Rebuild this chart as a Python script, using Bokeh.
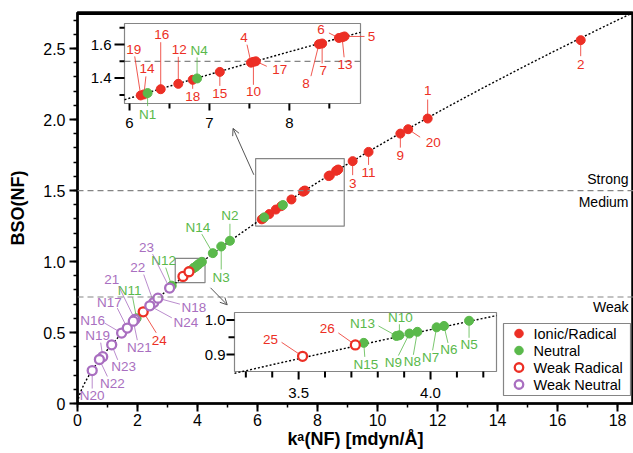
import numpy as np
from bokeh.plotting import figure
from bokeh.models import (Range1d, FixedTicker, Arrow, OpenHead, Span)
from bokeh.embed import file_html
from bokeh.resources import INLINE
from bokeh.core.properties import value

# ---------------- data ----------------
ionic_names = [str(i) for i in range(1, 21)]
ionic_k = [11.67, 16.77, 9.17, 7.52, 8.69, 8.62, 8.41, 8.37, 10.76, 7.55,
           9.70, 6.61, 8.66, 6.18, 7.13, 6.39, 7.58, 6.79, 6.14, 11.02]
ionic_bso = [2.007, 2.559, 1.707, 1.492, 1.648, 1.639, 1.606, 1.602, 1.901, 1.497,
             1.772, 1.366, 1.643, 1.303, 1.437, 1.334, 1.500, 1.390, 1.297, 1.932]

neutral_names = ["N%d" % i for i in range(1, 16)]
neutral_k = [6.226, 5.08, 4.79, 6.845, 4.146, 4.051, 4.023, 3.95, 3.92, 3.882,
             1.97, 3.14, 3.871, 4.51, 3.747]
neutral_bso = [1.311, 1.146, 1.106, 1.398, 0.998, 0.983, 0.979, 0.966, 0.961, 0.956,
               0.600, 0.830, 0.954, 1.059, 0.934]

wrad_names = ["24", "25", "26"]
wrad_k = [2.19, 3.515, 3.715]
wrad_bso = [0.646, 0.895, 0.928]

wneu_names = ["21", "22", "23", "N16", "N17", "N18", "N19", "N20", "N21", "N22", "N23", "N24"]
wneu_k = [1.91, 2.54, 3.07, 1.47, 1.66, 2.68, 0.84, 0.49, 1.86, 0.73, 1.14, 2.41]
wneu_bso = [0.592, 0.711, 0.813, 0.496, 0.531, 0.742, 0.330, 0.232, 0.580, 0.310, 0.413, 0.688]

legend_labels = ["Ionic/Radical", "Neutral", "Weak Radical", "Weak Neutral"]

x_major = [0, 2, 4, 6, 8, 10, 12, 14, 16, 18]
x_minor = list(range(0, 19))
y_major = [0, 0.5, 1.0, 1.5, 2.0, 2.5]
y_major_labels = ["0", "0.5", "1.0", "1.5", "2.0", "2.5"]
y_minor = [round(0.1 * i, 1) for i in range(0, 28)]

zone_limits = [1.5, 0.75]
zone_names = ["Strong", "Medium", "Weak"]

in1_xmajor = [6, 7, 8]
in1_xmajor_labels = ["6", "7", "8"]
in1_xminor = [6.5, 7.5, 8.5]
in1_ymajor = [1.4, 1.6]
in1_ymajor_labels = ["1.4", "1.6"]
in1_yminor = [1.3, 1.5, 1.7]

in2_xmajor = [3.5, 4.0]
in2_xmajor_labels = ["3.5", "4.0"]
in2_xminor = [3.3, 3.4, 3.6, 3.7, 3.8, 3.9, 4.1, 4.2]
in2_ymajor = [0.9, 1.0]
in2_ymajor_labels = ["0.9", "1.0"]
in2_yminor = [0.95]

# ---------------- layout / style ----------------
FONT = "Liberation Sans"
RED = "#ec2f25"
GREEN = "#5ab94b"
PURPLE = "#a96fc0"
GRAY = "#858585"

W, H = 633, 453
BL, BR, BT, BB = 77, 0, 12, 50
FW, FH = W - BL - BR, H - BT - BB
X_MAX, Y_MAX = 18.53, 2.754
PPX, PPY = FW / X_MAX, FH / Y_MAX

# inset boxes in frame pixels: left, top, width, height ; and their data windows
IN1_BOX = (47, 11, 236, 80)
IN1_X, IN1_Y = (5.937, 8.89), (1.249, 1.725)
IN2_BOX = (157, 300, 262, 59)
IN2_X, IN2_Y = (3.257, 4.25), (0.851, 1.022)

# legend box in frame pixels: left, top, width, height; row pitch; marker/text x
LEG_BOX = (426, 311, 127, 72)
LEG_ROW0, LEG_PITCH, LEG_MX, LEG_TX = 10, 17, 15.5, 30


def fx(px):
    return px / PPX


def fy(py):
    return (FH - py) / PPY


def full_ranges(box, xr, yr):
    left, top, bw, bh = box
    sx = (xr[1] - xr[0]) / bw
    sy = (yr[1] - yr[0]) / bh
    off_b = FH - (top + bh)
    return (Range1d(xr[0] - left * sx, xr[0] + (FW - left) * sx),
            Range1d(yr[0] - off_b * sy, yr[0] + (FH - off_b) * sy),
            1 / sx, 1 / sy)


p = figure(width=W, height=H, x_range=Range1d(0, X_MAX), y_range=Range1d(0, Y_MAX),
           output_backend="svg", toolbar_location=None,
           min_border_left=BL, min_border_right=BR, min_border_top=BT, min_border_bottom=BB)
# frame outline supplies the heavy top border
p.outline_line_color = "black"
p.outline_line_width = 2.5
p.outline_line_alpha = 1.0
p.grid.visible = False
p.background_fill_color = "white"

r1x, r1y, p1x, p1y = full_ranges(IN1_BOX, IN1_X, IN1_Y)
r2x, r2y, p2x, p2y = full_ranges(IN2_BOX, IN2_X, IN2_Y)
p.extra_x_ranges = {"i1": r1x, "i2": r2x}
p.extra_y_ranges = {"i1": r1y, "i2": r2y}

SYS = {
    "main": ("default", "default", PPX, PPY),
    "i1": ("i1", "i1", p1x, p1y),
    "i2": ("i2", "i2", p2x, p2y),
}

# axes
p.xaxis.ticker = FixedTicker(ticks=x_major, minor_ticks=x_minor)
p.yaxis.ticker = FixedTicker(ticks=y_major, minor_ticks=y_minor)
p.yaxis.major_label_overrides = {v: s for v, s in zip(y_major, y_major_labels)}
for ax in (p.xaxis, p.yaxis):
    ax.axis_line_width = 2
    ax.major_tick_line_width = 2
    ax.minor_tick_line_width = 1.5
    ax.major_tick_out = 8
    ax.major_tick_in = 0
    ax.minor_tick_out = 4
    ax.minor_tick_in = 0
    ax.major_label_text_font = FONT
    ax.major_label_text_font_size = "16px"
    ax.major_label_text_color = "black"
    ax.axis_label_text_font = FONT
    ax.axis_label_text_font_style = "bold"
    ax.axis_label_text_font_size = "18px"
    ax.axis_label_text_color = "black"
p.xaxis.major_label_standoff = 2
p.yaxis.major_label_standoff = 4
p.xaxis.axis_label = "k\u1d43(NF) [mdyn/\u00c5]"
p.yaxis.axis_label = "BSO(NF)"
p.xaxis.axis_label_standoff = 0
p.yaxis.axis_label_standoff = 12

# top frame line, also drawn just inside the frame
p.segment(x0=[0], x1=[X_MAX], y0=[Y_MAX - 1.2 / PPY], y1=[Y_MAX - 1.2 / PPY],
          line_color="black", line_width=2.5)

# zone separators
for lim in zone_limits:
    p.add_layout(Span(location=lim, dimension="width", line_color=GRAY,
                      line_dash="6 4", line_width=1.2))

# inset frames and zoom boxes
for name, xr, yr in (("i1", IN1_X, IN1_Y), ("i2", IN2_X, IN2_Y)):
    p.quad(left=[xr[0]], right=[xr[1]], bottom=[yr[0]], top=[yr[1]],
           fill_color="white", line_color=GRAY, line_width=1.2,
           x_range_name=name, y_range_name=name)
    p.quad(left=[xr[0]], right=[xr[1]], bottom=[yr[0]], top=[yr[1]],
           fill_color=None, line_color=GRAY, line_width=1.2)

# inset 1 dashed strong/medium line
p.segment(x0=[IN1_X[0]], x1=[IN1_X[1]], y0=[zone_limits[0]], y1=[zone_limits[0]],
          line_color=GRAY, line_dash="6 4", line_width=1.2, x_range_name="i1", y_range_name="i1")

# arrows from zoom boxes to insets
p.add_layout(Arrow(end=OpenHead(size=7, line_color="#555", line_width=1),
                   x_start=5.877, y_start=1.611, x_end=5.183, y_end=1.938,
                   line_color="#555", line_width=1))
p.add_layout(Arrow(end=OpenHead(size=7, line_color="#555", line_width=1),
                   x_start=4.433, y_start=0.815, x_end=4.99, y_end=0.695,
                   line_color="#555", line_width=1))

# inset ticks

def inset_ticks(sysname, xr, yr, xmaj, xmaj_lab, xmin, ymaj, ymaj_lab, ymin,
                xlen, ylen, xlab_off, ylab_off):
    xn, yn, ppx, ppy = SYS[sysname]
    kw = dict(x_range_name=xn, y_range_name=yn, line_color="black", line_width=2)
    xs = list(xmaj) + list(xmin)
    lens = [xlen[0]] * len(xmaj) + [xlen[1]] * len(xmin)
    p.segment(x0=xs, x1=xs, y0=[yr[0]] * len(xs),
              y1=[yr[0] - L / ppy for L in lens], **kw)
    ys = list(ymaj) + list(ymin)
    lens = [ylen[0]] * len(ymaj) + [ylen[1]] * len(ymin)
    p.segment(y0=ys, y1=ys, x0=[xr[0]] * len(ys),
              x1=[xr[0] - L / ppx for L in lens], **kw)
    p.text(x=list(xmaj), y=[yr[0]] * len(xmaj), text=list(xmaj_lab), y_offset=xlab_off,
           text_align="center", text_baseline="middle", text_font=value(FONT),
           text_font_size=value("15px"), text_color="black", x_range_name=xn, y_range_name=yn)
    p.text(x=[xr[0]] * len(ymaj), y=list(ymaj), text=list(ymaj_lab), x_offset=ylab_off,
           text_align="right", text_baseline="middle", text_font=value(FONT),
           text_font_size=value("15px"), text_color="black", x_range_name=xn, y_range_name=yn)


inset_ticks("i1", IN1_X, IN1_Y, in1_xmajor, in1_xmajor_labels, in1_xminor,
            in1_ymajor, in1_ymajor_labels, in1_yminor, (7, 5), (10, 5), 19, -13)
inset_ticks("i2", IN2_X, IN2_Y, in2_xmajor, in2_xmajor_labels, in2_xminor,
            in2_ymajor, in2_ymajor_labels, in2_yminor, (8, 6), (8, 6), 21, -9)

# power-law fit through all points (log-log least squares)
all_k = np.array(ionic_k + neutral_k + wrad_k + wneu_k)
all_b = np.array(ionic_bso + neutral_bso + wrad_bso + wneu_bso)
n_fit, lnA = np.polyfit(np.log(all_k), np.log(all_b), 1)
A_fit = np.exp(lnA)

kk = np.linspace(0.002, X_MAX, 500)
p.line(kk, A_fit * kk ** n_fit, line_color="black", line_width=1.4, line_dash="2 2")
for name, xr in (("i1", IN1_X), ("i2", IN2_X)):
    kk2 = np.linspace(xr[0], xr[1], 200)
    p.line(kk2, A_fit * kk2 ** n_fit, line_color="black", line_width=1.4,
           line_dash="2 2", x_range_name=name, y_range_name=name)

# label layout: name -> (label dx, label dy, leader end dx, leader end dy), screen px, dy down
main_labels = {
    "1": (0, -28, 0, -19), "2": (0, 24, 0, 16), "3": (0, 22, 0, 14), "9": (0, 22, 0, 14),
    "11": (0, 21, 0, 13), "20": (25, 13, 12, 8),
    "21": (-23, -40, -16, -33), "22": (-16, -35, -10, -28), "23": (-23, -41, -17, -34),
    "24": (16, 29, 13, 21),
    "N2": (0, -25, 0, -17), "N3": (0, 31, 0, 23), "N11": (-7, -28, -4, -21),
    "N12": (-8, -25, -6, -18), "N14": (-15, -26, -11, -19),
    "N16": (-29, -13, -17, -10), "N17": (-18, -26, -10, -20), "N18": (36, 9, 22, 6),
    "N19": (-5, -21, -2, -14), "N20": (0, 25, 0, 18), "N21": (6, 26, 4, 19),
    "N22": (13, 24, 8, 17), "N23": (12, 22, 6, 15), "N24": (36, 17, 22, 12),
}
in1_labels = {
    "19": (-7, -46, -6, -39), "14": (3, -26, 2, -18), "N1": (0, 21, 0, 13),
    "16": (1, -55, 0, -47), "12": (1, -34, 0, -27), "N4": (2, -28, 0, -21),
    "18": (0, 17, 0, 9), "15": (0, 22, 0, 14), "4": (-7, -25, -4, -18),
    "10": (0, 30, 0, 23), "17": (24, 8, 11, 5), "8": (-13, 39, -8, 32),
    "7": (1, 27, 0, 20), "6": (-18, -8, -10, -5), "13": (3, 27, 2, 20), "5": (27, 0, 20, 0),
}
in2_labels = {
    "25": (-32, -17, -21, -14), "26": (-28, -16, -17, -12), "N15": (2, 22, 1, 14),
    "N13": (-34, -12, -18, -10), "N10": (1, -18, 0, -11), "N9": (-16, 29, -11, 22),
    "N8": (-5, 30, -4, 23), "N7": (-6, 30, -4, 23), "N6": (5, 24, 4, 17), "N5": (0, 24, 0, 17),
}

groups = [
    (ionic_names, ionic_k, ionic_bso, RED, dict(fill_color=RED, line_color=RED, line_width=1)),
    (neutral_names, neutral_k, neutral_bso, GREEN, dict(fill_color=GREEN, line_color=GREEN, line_width=1)),
    (wrad_names, wrad_k, wrad_bso, RED, dict(fill_color="white", line_color=RED, line_width=2.3)),
    (wneu_names, wneu_k, wneu_bso, PURPLE, dict(fill_color="white", line_color=PURPLE, line_width=2.3)),
]


def draw_labels(sysname, layout, names, ks, bs, color):
    xn, yn, ppx, ppy = SYS[sysname]
    lx, ly, tx, dxs, dys, x0, y0, x1, y1 = [], [], [], [], [], [], [], [], []
    for n, k, b in zip(names, ks, bs):
        if n not in layout:
            continue
        dx, dy, ex, ey = layout[n]
        lx.append(k); ly.append(b); tx.append(n); dxs.append(dx); dys.append(dy)
        x0.append(k); y0.append(b); x1.append(k + ex / ppx); y1.append(b - ey / ppy)
    if not tx:
        return
    p.segment(x0=x0, y0=y0, x1=x1, y1=y1, line_color=color, line_width=1, line_alpha=0.8,
              x_range_name=xn, y_range_name=yn)
    p.text(x=lx, y=ly, text=tx, x_offset=dxs, y_offset=dys, text_align="center",
           text_baseline="middle", text_color=color, text_font=value(FONT),
           text_font_size=value("13.5px"), x_range_name=xn, y_range_name=yn)


for names, ks, bs, col, _ in groups:
    draw_labels("main", main_labels, names, ks, bs, col)
    draw_labels("i1", in1_labels, names, ks, bs, col)
    draw_labels("i2", in2_labels, names, ks, bs, col)

for names, ks, bs, col, st in groups:
    p.scatter(ks, bs, marker="circle", size=9, **st)
    for name, xr, yr in (("i1", IN1_X, IN1_Y), ("i2", IN2_X, IN2_Y)):
        sel = [(k, b) for k, b in zip(ks, bs) if xr[0] <= k <= xr[1] and yr[0] <= b <= yr[1]]
        if sel:
            p.scatter([s[0] for s in sel], [s[1] for s in sel], marker="circle", size=9,
                      x_range_name=name, y_range_name=name, **st)

# zone names
p.text(x=[X_MAX] * 3, y=[zone_limits[0], zone_limits[0], zone_limits[1]],
       text=zone_names, x_offset=[-5, -5, -5], y_offset=[-12, 11, 10],
       text_align="right", text_baseline="middle", text_color="black",
       text_font=value(FONT), text_font_size=value("14px"))

# legend (boxed key)
lx0, lt, lw, lh = LEG_BOX
p.quad(left=[fx(lx0)], right=[fx(lx0 + lw)], top=[fy(lt)], bottom=[fy(lt + lh)],
       fill_color="white", line_color=GRAY, line_width=1.2)
for i, ((names, ks, bs, col, st), lab) in enumerate(zip(groups, legend_labels)):
    yy = fy(lt + LEG_ROW0 + i * LEG_PITCH)
    p.scatter([fx(lx0 + LEG_MX)], [yy], marker="circle", size=8.5, **st)
    p.text(x=[fx(lx0 + LEG_TX)], y=[yy], text=[lab], text_align="left",
           text_baseline="middle", text_color="black", text_font=value(FONT),
           text_font_size=value("14.5px"))

open("out.html", "w").write(file_html(p, INLINE))
